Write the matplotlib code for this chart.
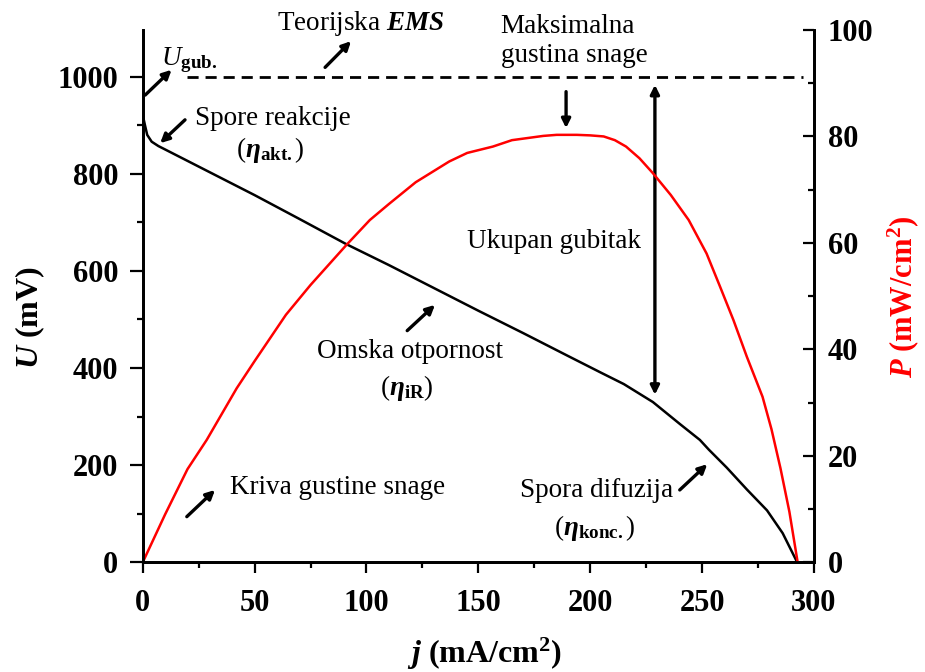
import matplotlib
matplotlib.use("Agg")
import matplotlib.pyplot as plt
from matplotlib.ticker import MultipleLocator

plt.rcParams["font.family"] = "Liberation Serif"
plt.rcParams["mathtext.fontset"] = "custom"
plt.rcParams["mathtext.rm"] = "Liberation Serif"
plt.rcParams["mathtext.it"] = "Liberation Serif:italic"
plt.rcParams["mathtext.bf"] = "Liberation Serif:bold"
plt.rcParams["mathtext.bfit"] = "Liberation Serif:italic:bold"

# polarization curve, j in mA/cm2, U in mV
j_u = [0, 1, 2, 4, 7, 10, 30, 50, 70, 91, 110, 130, 150, 170, 190, 205, 215,
       228, 240, 249, 253, 261, 270, 279, 286, 292.5]
u = [921, 900, 880, 866, 857, 850, 803, 756, 707, 655, 612, 565, 518, 472, 425,
     390, 367, 330, 285, 252, 232, 195, 150, 107, 60, 0]

# power density curve, P in mW/cm2
j_p = [0, 10, 20, 28.6, 42, 50, 64, 75, 91, 101.5, 110, 122, 137, 145, 156.5,
       165, 179, 185, 194, 200, 206, 211, 216, 222, 228, 236, 244, 252, 258,
       264, 270, 277, 281, 285, 289, 292.7]
p = [0, 9, 17.5, 23, 32.7, 37.8, 46.5, 52.1, 59.6, 64.3, 67.3, 71.4, 75.3, 76.9,
     78.1, 79.3, 80.1, 80.3, 80.3, 80.2, 80.0, 79.3, 78.1, 75.9, 73.1, 69.0,
     64.3, 58.0, 51.8, 45.5, 38.6, 31.1, 25.0, 17.7, 9.5, 0]

emf = 1000
emf_span = [19.8, 294.9]

fig = plt.figure(figsize=(9.25, 6.72), dpi=100)
ax = fig.add_axes([0.1543, 0.1632, 0.7257, 0.7922])
ax2 = ax.twinx()

ax.plot(j_u, u, color="black", lw=1.8)
ax.plot(emf_span, [emf, emf], color="black", lw=2, dashes=(4, 2.5))
ax2.plot(j_p, p, color="red", lw=1.8)

ax.set_xlim(0, 300)
ax.set_ylim(0, 1096)
ax2.set_ylim(0, 100)

for a in (ax, ax2):
    a.spines["top"].set_visible(False)
    for s in ("left", "bottom", "right"):
        a.spines[s].set_linewidth(2)

ax.xaxis.set_major_locator(MultipleLocator(50))
ax.xaxis.set_minor_locator(MultipleLocator(25))
ax.yaxis.set_major_locator(MultipleLocator(200))
ax.yaxis.set_minor_locator(MultipleLocator(100))
ax2.yaxis.set_major_locator(MultipleLocator(20))
ax2.yaxis.set_minor_locator(MultipleLocator(10))

ax.tick_params(axis="y", which="major", direction="out", length=9.5, width=1.6, pad=8)
ax.tick_params(axis="x", which="major", direction="out", length=8, width=1.6, pad=11)
ax.tick_params(which="minor", direction="out", length=4, width=1.6)
ax2.tick_params(which="major", direction="in", length=8, width=1.6, pad=10)
ax2.tick_params(which="minor", direction="in", length=4, width=1.6)

for lab in ax.get_xticklabels() + ax.get_yticklabels() + ax2.get_yticklabels():
    lab.set_fontsize(22)
    lab.set_fontweight("bold")

fig.text(0.0324, 0.528, r"$\mathbfit{U}$ (mV)", rotation=90, ha="center",
         va="center", fontsize=23, fontweight="bold")
fig.text(0.976, 0.558, r"$\mathbfit{P}$ (mW/cm$^{\mathbf{2}}$)", rotation=90,
         ha="center", va="center", fontsize=22, fontweight="bold", color="red")
fig.text(0.524, 0.027, r"$\mathbfit{j}$ (mA/cm$^{\mathbf{2}}$)", ha="center",
         va="center", fontsize=23, fontweight="bold")

fs = 19.5
ax.text(97.5, 1110, r"Teorijska $\mathbfit{EMS}$", ha="center", va="center", fontsize=fs)
ax.text(8.2, 1024, r"$U_{\mathbf{gub.}}$", ha="left", va="baseline", fontsize=fs)
ax.text(58, 900, "Spore reakcije", ha="center", va="baseline", fontsize=fs)
ax.text(57, 849, r"$(\mathbfit{\eta}_{\mathbf{akt.}})$", ha="center", va="center", fontsize=fs)
ax.text(190, 1090, "Maksimalna", ha="center", va="baseline", fontsize=fs)
ax.text(192.7, 1030, "gustina snage", ha="center", va="baseline", fontsize=fs)
ax.text(183.8, 647, "Ukupan gubitak", ha="center", va="baseline", fontsize=fs)
ax.text(119.5, 421, "Omska otpornost", ha="center", va="baseline", fontsize=fs)
ax.text(118, 359, r"$(\mathbfit{\eta}_{\mathbf{iR}})$", ha="center", va="center", fontsize=fs)
ax.text(87, 140.6, "Kriva gustine snage", ha="center", va="baseline", fontsize=fs)
ax.text(202.9, 135, "Spora difuzija", ha="center", va="baseline", fontsize=fs)
ax.text(201.7, 70.6, r"$(\mathbfit{\eta}_{\mathbf{konc.}})$", ha="center", va="center", fontsize=fs)

arrow = dict(arrowstyle="-|>", lw=2.4, color="black", mutation_scale=13,
             shrinkA=0, shrinkB=0)
arrows = [
    ((81.5, 1019), (93.1, 1073)),   # Teorijska EMS
    ((1.1, 962), (12.9, 1014)),     # U gub.
    ((18.9, 911), (7.8, 863)),      # spore reakcije
    ((189.2, 969), (189.2, 894)),   # maksimalna gustina
    ((118.2, 477), (130.6, 530)),   # omska otpornost
    ((19.7, 94), (32.3, 149)),      # kriva gustine snage
    ((240, 149), (252.3, 202)),     # spora difuzija
]
for tail, head in arrows:
    ax.annotate("", xy=head, xytext=tail, arrowprops=arrow, annotation_clip=False)

# total loss, from EMF down to the polarization curve
ax.annotate("", xy=(228.9, 983), xytext=(228.9, 345),
            arrowprops=dict(arrowstyle="<|-|>", lw=2.4, color="black",
                            mutation_scale=13, shrinkA=0, shrinkB=0))

fig.savefig("out.png", dpi=100)
